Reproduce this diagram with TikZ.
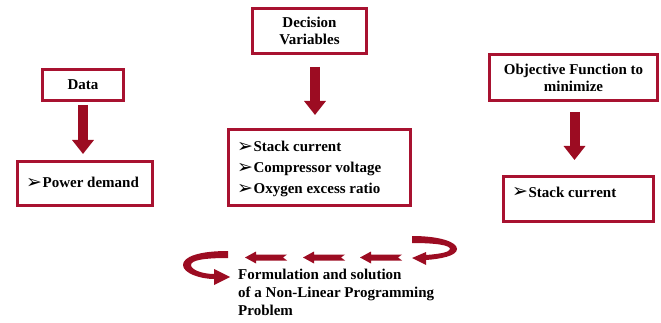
\documentclass[tikz,border=0pt]{standalone}
\usepackage{fontspec}
\setmainfont{Liberation Serif}
\newfontfamily\symfont{DejaVu Sans}
\usetikzlibrary{arrows.meta}
\definecolor{boxred}{RGB}{168,18,48}
\definecolor{arrred}{RGB}{156,12,34}
\newcommand{\bul}{{\symfont\fontsize{19}{19}\selectfont\raisebox{-0.5pt}{➢}}\hspace{0.5pt}}
\begin{document}
\begin{tikzpicture}[x=1pt,y=-1pt,
  box/.style={draw=boxred,line width=3pt,fill=white,inner sep=0pt,align=center,
    font=\bfseries\fontsize{15}{17}\selectfont},
  item/.style={anchor=base west,inner sep=0pt,font=\bfseries\fontsize{15}{18}\selectfont},
  blockarrow/.style={draw=arrred,line width=10pt,-{Triangle[width=21pt,length=14pt]}},
  deco/.style={fill=arrred,draw=none}]
\useasboundingbox (0,0) rectangle (661,323);
% boxes
\node[box,minimum width=81pt,minimum height=31pt] (data) at (83,85) {Data};
\node[box,minimum width=135pt,minimum height=44pt] (power) at (85,183.5) {};
\node[box,minimum width=114pt,minimum height=45pt] (dec) at (309.5,31) {Decision\\Variables};
\node[box,minimum width=182pt,minimum height=76pt] (vars) at (319.5,167.5) {};
\node[box,minimum width=168pt,minimum height=46pt] (obj) at (573.5,77.5) {Objective Function to\\minimize};
\node[box,minimum width=150pt,minimum height=45pt] (stack) at (578.5,199) {};
% items
\node[item] (p1) at (26,188) {\bul Power demand};
\node[item] (v1) at (237,152) {\bul Stack current};
\node[item] (v2) at (237,173) {\bul Compressor voltage};
\node[item] (v3) at (237,194) {\bul Oxygen excess ratio};
\node[item] (s1) at (512,197) {\bul Stack current};
% block arrows
\draw[blockarrow,shorten <=3pt,shorten >=6pt] (data.south) -- (data.south |- power.north);
\draw[blockarrow,shorten <=12pt,shorten >=13pt] ([xshift=5.5pt]dec.south) -- ([xshift=5.5pt]dec.south |- vars.north);
\draw[blockarrow,shorten <=10pt,shorten >=15pt] ([xshift=1pt]obj.south) -- ([xshift=1pt]obj.south |- stack.north);
% bottom loop arrows
\fill[deco] (228,251) .. controls (198,251) and (183,257) .. (183,265)
  .. controls (183,273) and (200,279) .. (214,279) -- (214,285) -- (230,277) -- (214,269) -- (214,274)
  .. controls (203,274) and (191,270) .. (191,265)
  .. controls (191,260) and (205,258) .. (228,258) -- cycle;
\fill[deco] (412,236) .. controls (440,236) and (457,242) .. (457,249)
  .. controls (457,256) and (440,259) .. (426,260) -- (426,265) -- (412,258) -- (426,252) -- (426,255)
  .. controls (440,254) and (450,252) .. (450,249)
  .. controls (450,245) and (435,243) .. (412,243) -- cycle;
\foreach \dx in {0,58,115}{
  \fill[deco,xshift=\dx pt] (245,257.5) -- (256,251.5) -- (256,254.5) -- (287,254.5) -- (283,257.5)
    -- (287,260.5) -- (256,260.5) -- (256,263.5) -- cycle;
}
\node[anchor=north west,inner sep=0pt,align=left,font=\bfseries\fontsize{15}{18}\selectfont] (nlp) at (238,268.5)
  {Formulation and solution\\of a Non-Linear Programming\\Problem};
\end{tikzpicture}
\end{document}
